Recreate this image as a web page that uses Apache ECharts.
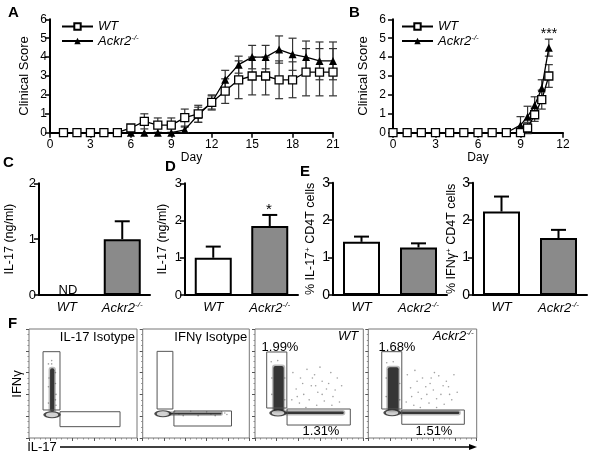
<!DOCTYPE html>
<html><head><meta charset="utf-8">
<script src="https://cdn.jsdelivr.net/npm/echarts@6/dist/echarts.min.js"></script>
<style>html,body{margin:0;padding:0;background:#fff}#c{width:600px;height:463px}</style>
</head><body><div id="c"></div>
<script>
// ---------- DATA ----------
// Panel A: clinical score over days
const daysA = [1,2,3,4,5,6,7,8,9,10,11,12,13,14,15,16,17,18,19,20,21];
const wtA    = [0,0,0,0,0,0.25,0.6,0.4,0.4,0.8,1.0,1.6,2.2,2.8,3.0,3.0,2.8,2.8,3.2,3.2,3.2];
const wtAErr = [0,0,0,0,0,0.15,0.4,0.38,0.38,0.45,0.45,0.4,0.65,1.0,1.0,1.0,1.0,0.95,1.25,1.25,1.25];
const koA    = [0,0,0,0,0,0,0,0,0,0.15,0.95,1.6,2.8,3.6,4.0,4.0,4.4,4.15,4.0,3.8,3.8];
const koAErr = [0,0,0,0,0,0,0,0,0,0.15,0.4,0.35,0.5,0.45,0.62,0.62,0.72,0.85,0.85,1.0,1.0];
// Panel B
const daysB  = [0,1,2,3,4,5,6,7,8,9,9.5,10,10.5,11];
const wtB    = [0,0,0,0,0,0,0,0,0,0,0.25,0.95,1.75,3.0];
const wtBErr = [0,0,0,0,0,0,0,0,0,0,0.3,0.35,0.5,0.6];
const koB    = [0,0,0,0,0,0,0,0,0,0.4,0.85,1.45,2.35,4.5];
const koBErr = [0,0,0,0,0,0,0,0,0,0.45,0.55,0.45,0.45,0.45];
// Bar panels
const groups = ['WT','Ackr2'];
const cVals = [null, 1.0];  const cErr = [null, 0.32];
const dVals = [1.0, 1.85];  const dErr = [0.3, 0.3];
const e1Vals = [1.42, 1.27]; const e1Err = [0.14, 0.11];
const e2Vals = [2.23, 1.52]; const e2Err = [0.4, 0.22];
// Panel F flow plots (coords 0-100 IL-17 x, IFNg y)
const flowTitles = ['IL-17 Isotype','IFNγ Isotype','WT','Ackr2'];
const flowGates = [
  [[13,25.7,28.7,79.2],[28.7,10.4,84.3,24.1]],
  [[13.5,26.6,28.3,79.5],[29.3,11,83.3,24.8]],
  [[10.8,27.5,29.4,78.9],[29.6,11.9,88,26.6]],
  [[12.4,26.6,30.9,79.2],[30.9,12.6,88.6,25.7]]
];
const flowPctUpper = [null, null, '1.99%', '1.68%'];
const flowPctLower = [null, null, '1.31%', '1.51%'];
const flowBlobs = [
  [[19.5,24,23.5,64]],
  [[24,21.6,74,23.2]],
  [[17,24,26.5,66],[28,22,82,24.2]],
  [[18,24,28,65],[29,22,84,24.2]]
];
const flowCenters = [[21.3,21.4],[19,22.3],[21.2,22.9],[21.9,23.2]];
const flowSparse = [
  [[18,68],[24.5,60],[18,47],[25,40],[18,32],[25,30],[21,68],[24.5,50],[18.5,55],[24.5,35],[21,71]],
  [[30,24.5],[38,20.5],[45,24.5],[52,20.5],[60,24],[68,20.5],[74,24],[79,21.5],[34,22],[64,22],[77,23]],
  [[35,60],[42,55],[48,63],[55,58],[62,52],[70,60],[76,55],[38,45],[45,40],[52,48],[58,42],[66,45],[72,38],[80,48],[34,35],[41,32],[50,35],[57,30],[64,34],[71,30],[78,33],[44,50],[60,65],[68,50],[53,55],[47,28],[74,44],[39,38],[62,40],[56,48],[15,70],[27.5,55],[15.5,40],[21,71],[27.5,35],[15.5,55]],
  [[36,58],[43,62],[50,55],[57,50],[65,57],[72,52],[79,58],[39,46],[46,42],[53,47],[60,44],[67,40],[74,47],[82,42],[35,33],[42,30],[49,36],[56,32],[63,36],[70,31],[77,35],[45,52],[61,60],[69,48],[54,40],[48,28],[75,40],[40,38],[63,28],[58,55],[17,69],[29,50],[16.5,38],[23,70],[29,35],[16.5,55]]
];

// ---------- LAYOUT ----------
const FONT = '"Liberation Sans", Arial, sans-serif';
const chart = echarts.init(document.getElementById('c'), null, {renderer:'canvas'});

const grids = [
  {left:50, top:19.3, width:283, height:113.4},   // A
  {left:393, top:19.3, width:170, height:113.4},  // B
  {left:39, top:183.3, width:111, height:111.7},  // C
  {left:185, top:183.3, width:113, height:111.7}, // D
  {left:333, top:182.7, width:114, height:112.3}, // E1
  {left:473, top:182.7, width:114, height:112.3}, // E2
  {left:29, top:329, width:108, height:109},
  {left:142.7, top:329, width:106.6, height:109},
  {left:255, top:329, width:108.3, height:109},
  {left:368.3, top:329, width:108.4, height:109}
];
grids.forEach((g,i)=>{ if(i>=6){ g.show=true; g.borderColor='#777'; g.borderWidth=1; } });

const axLine = {show:true, lineStyle:{color:'#000', width:2}};
const tick = {show:true, length:5, inside:false, lineStyle:{color:'#000', width:1.5}};
const lbl = (fs,m)=>({color:'#000', fontSize:fs, fontFamily:FONT, margin:m});

const italicRich = {
  i:{fontStyle:'italic', fontSize:13, fontFamily:FONT, color:'#000'},
  s:{fontStyle:'italic', fontSize:8, fontFamily:FONT, color:'#000', verticalAlign:'top', padding:[0,0,6,0]}
};
const grpFmt = v => v==='WT' ? '{i|WT}' : '{i|Ackr2}{s|-/-}';

const xAxes = [], yAxes = [];
// A
xAxes.push({gridIndex:0, type:'value', min:0, max:21, interval:3, axisLine:axLine, axisTick:tick, axisLabel:lbl(12,6), splitLine:{show:false},
  name:'Day', nameLocation:'middle', nameGap:14, nameTextStyle:{fontSize:12, fontFamily:FONT, color:'#000'}});
yAxes.push({gridIndex:0, type:'value', min:0, max:6, interval:1, axisLine:axLine, axisTick:tick, axisLabel:lbl(12,3), splitLine:{show:false},
  name:'Clinical Score', nameLocation:'middle', nameGap:19, nameTextStyle:{fontSize:13, fontFamily:FONT, color:'#000'}});
// B
xAxes.push({gridIndex:1, type:'value', min:0, max:12, interval:3, axisLine:axLine, axisTick:tick, axisLabel:lbl(12,6), splitLine:{show:false},
  name:'Day', nameLocation:'middle', nameGap:14, nameTextStyle:{fontSize:12, fontFamily:FONT, color:'#000'}});
yAxes.push({gridIndex:1, type:'value', min:0, max:6, interval:1, offset:4, axisLine:axLine, axisTick:tick, axisLabel:lbl(12,3), splitLine:{show:false},
  name:'Clinical Score', nameLocation:'middle', nameGap:19, nameTextStyle:{fontSize:13, fontFamily:FONT, color:'#000'}});
// bar panels
const barY = [
  {max:2, name:'IL-17 (ng/ml)', gap:23, fs:13},
  {max:3, name:'IL-17 (ng/ml)', gap:16, fs:13},
  {max:3, name:'% IL-17{s|+} CD4T cells', gap:16, fs:14},
  {max:3, name:'% IFNγ{s|+} CD4T cells', gap:15, fs:14}
];
barY.forEach((b,k)=>{
  const gi = 2+k;
  xAxes.push({gridIndex:gi, type:'category', data:groups, axisLine:axLine, axisTick:{show:false},
    axisLabel:{formatter:grpFmt, rich:italicRich, margin:6, interval:0, hideOverlap:false}});
  yAxes.push({gridIndex:gi, type:'value', min:0, max:b.max, interval:1, axisLine:axLine, axisTick:tick, axisLabel:lbl(b.fs,3), splitLine:{show:false},
    name:b.name, nameLocation:'middle', nameGap:b.gap,
    nameTextStyle:{fontSize:12.5, fontFamily:FONT, color:'#000', rich:{s:{fontSize:8, fontFamily:FONT, color:'#000', verticalAlign:'top'}}}});
});
// flow panels
for(let k=0;k<4;k++){
  const gi = 6+k;
  const ft = {show:true, length:3, inside:false, lineStyle:{color:'#555', width:1}};
  const mt = {show:true, splitNumber:4, length:1.5, lineStyle:{color:'#888', width:1}};
  xAxes.push({gridIndex:gi, type:'value', min:0, max:100, interval:20, axisLine:{show:false}, axisTick:ft, minorTick:mt, axisLabel:{show:false}, splitLine:{show:false}});
  yAxes.push({gridIndex:gi, type:'value', min:0, max:100, interval:20, axisLine:{show:false}, axisTick:ft, minorTick:mt, axisLabel:{show:false}, splitLine:{show:false}});
}

// ---------- RENDERERS ----------
function errRender(capW, upperOnly, color, lw){
  return function(params, api){
    const x = api.value(0), lo = api.value(1), hi = api.value(2);
    const pt = api.coord([x, hi]), pb = api.coord([x, lo]);
    const ch = [
      {type:'line', shape:{x1:pt[0], y1:pt[1], x2:pb[0], y2:pb[1]}, style:{stroke:color, lineWidth:lw}},
      {type:'line', shape:{x1:pt[0]-capW/2, y1:pt[1], x2:pt[0]+capW/2, y2:pt[1]}, style:{stroke:color, lineWidth:lw}}
    ];
    if(!upperOnly) ch.push({type:'line', shape:{x1:pb[0]-capW/2, y1:pb[1], x2:pb[0]+capW/2, y2:pb[1]}, style:{stroke:color, lineWidth:lw}});
    return {type:'group', children:ch};
  };
}
function blobRender(params, api){
  const a = api.coord([api.value(0), api.value(3)]);
  const b = api.coord([api.value(2), api.value(1)]);
  const w = b[0]-a[0], h = b[1]-a[1];
  return {type:'group', children:[
    {type:'rect', shape:{x:a[0]-1.5, y:a[1]-1.5, width:w+3, height:h+3, r:3}, style:{fill:'rgba(60,60,60,0.35)'}},
    {type:'rect', shape:{x:a[0], y:a[1], width:w, height:h, r:2}, style:{fill:'rgba(30,30,30,0.85)'}}
  ]};
}
function gateRender(params, api){
  const a = api.coord([api.value(0), api.value(3)]);
  const b = api.coord([api.value(2), api.value(1)]);
  return {type:'rect', shape:{x:a[0], y:a[1], width:b[0]-a[0], height:b[1]-a[1]}, style:{fill:'none', stroke:'#555', lineWidth:1}};
}

const series = [];
function clinical(idx, days, wt, wtE, ko, koE){
  series.push({type:'custom', xAxisIndex:idx, yAxisIndex:idx, z:1, silent:true,
    renderItem:errRender(8,false,'#333',1.2),
    data: days.map((d,i)=>[d, wt[i]-wtE[i], wt[i]+wtE[i], wtE[i]]).filter(r=>r[3]>0)});
  series.push({type:'custom', xAxisIndex:idx, yAxisIndex:idx, z:1, silent:true,
    renderItem:errRender(8,false,'#333',1.2),
    data: days.map((d,i)=>[d, ko[i]-koE[i], ko[i]+koE[i], koE[i]]).filter(r=>r[3]>0)});
  series.push({type:'line', name:'Ackr2', xAxisIndex:idx, yAxisIndex:idx, z:3,
    data: days.map((d,i)=>[d, ko[i]]), symbol:'triangle', symbolSize:8,
    itemStyle:{color:'#000'}, lineStyle:{color:'#000', width:1.3}});
  series.push({type:'line', name:'WT', xAxisIndex:idx, yAxisIndex:idx, z:4,
    data: days.map((d,i)=>[d, wt[i]]), symbol:'rect', symbolSize:8,
    itemStyle:{color:'#fff', borderColor:'#000', borderWidth:1.3}, lineStyle:{color:'#000', width:1.3}});
}
clinical(0, daysA, wtA, wtAErr, koA, koAErr);
clinical(1, daysB, wtB, wtBErr, koB, koBErr);

const barSets = [[cVals,cErr],[dVals,dErr],[e1Vals,e1Err],[e2Vals,e2Err]];
const barColors = ['#ffffff','#8a8a8a'];
barSets.forEach(([vals,errs],k)=>{
  const ai = 2+k;
  series.push({type:'custom', xAxisIndex:ai, yAxisIndex:ai, z:1, silent:true,
    renderItem:errRender(15,true,'#000',2),
    data: vals.map((v,i)=> v==null ? null : [i, v, v+errs[i]]).filter(r=>r)});
  series.push({type:'bar', xAxisIndex:ai, yAxisIndex:ai, z:2, barWidth:37,
    data: vals.map((v,i)=> v==null ? '-' : {value:v, itemStyle:{color:barColors[i]}}),
    itemStyle:{borderColor:'#000', borderWidth:2}});
});

for(let k=0;k<4;k++){
  const ai = 6+k;
  series.push({type:'scatter', xAxisIndex:ai, yAxisIndex:ai, z:1, silent:true,
    data: flowSparse[k], symbolSize:1.6, itemStyle:{color:'#888'}});
  series.push({type:'custom', xAxisIndex:ai, yAxisIndex:ai, z:2, silent:true,
    renderItem:blobRender, data: flowBlobs[k]});
  series.push({type:'custom', xAxisIndex:ai, yAxisIndex:ai, z:3, silent:true,
    renderItem:gateRender, data: flowGates[k]});
  series.push({type:'scatter', xAxisIndex:ai, yAxisIndex:ai, z:4, silent:true,
    data: [flowCenters[k]], symbol:'circle', symbolSize:[15,6],
    itemStyle:{color:'#c8c8c8', borderColor:'#222', borderWidth:1.6}});
}

// ---------- TEXT / DECORATION ----------
const letterStyle = (t,x,y)=>({type:'text', x:x, y:y, style:{text:t, fontSize:15, fontWeight:'bold', fontFamily:FONT, fill:'#000'}});
const txt = (t,x,y,o)=>({type:'text', x:x, y:y, style:Object.assign({text:t, fontSize:13, fontFamily:FONT, fill:'#000', align:'center', verticalAlign:'middle'}, o||{})});
const graphics = [
  letterStyle('A',8,5), letterStyle('B',349,5), letterStyle('C',3,155), letterStyle('D',165,159),
  letterStyle('E',300,164), letterStyle('F',8,316),
  txt('***',549,34,{fontSize:14}),
  txt('*',269,210,{fontSize:15}),
  txt('ND',68,290,{fontSize:13}),
  {type:'text', x:17, y:384, rotation:Math.PI/2, style:{text:'IFNγ', fontSize:13, fontFamily:FONT, fill:'#000', align:'center', verticalAlign:'middle'}},
  txt('IL-17',42,447,{fontSize:13}),
  {type:'line', shape:{x1:60, y1:447, x2:472, y2:447}, style:{stroke:'#000', lineWidth:1.5}},
  {type:'polygon', shape:{points:[[477,447],[469,444],[469,450]]}, style:{fill:'#000'}}
];
const boxR = [137,249.3,363.3,476.7];
flowTitles.forEach((t,k)=>{
  if(k<2) graphics.push(txt(t, boxR[k]-2, 337, {align:'right', fontSize:13}));
  else if(t==='WT') graphics.push(txt('WT', boxR[k]-5, 336, {align:'right', fontSize:13, fontStyle:'italic'}));
  else graphics.push({type:'text', x:boxR[k]-3, y:336, style:{text:'{i|Ackr2}{s|-/-}', align:'right', verticalAlign:'middle',
    rich:{i:{fontStyle:'italic', fontSize:13, fontFamily:FONT, fill:'#000'}, s:{fontStyle:'italic', fontSize:8, fontFamily:FONT, fill:'#000', verticalAlign:'top', padding:[0,0,6,0]}}}});
});
const upX = [null,null,280,397], loX=[null,null,321,434];
for(let k=2;k<4;k++){
  graphics.push(txt(flowPctUpper[k], upX[k], 347, {fontSize:13}));
  graphics.push(txt(flowPctLower[k], loX[k], 431, {fontSize:13}));
}

const legendRich = {
  i:{fontStyle:'italic', fontSize:13, fontFamily:FONT, color:'#000'},
  s:{fontStyle:'italic', fontSize:8, fontFamily:FONT, color:'#000', verticalAlign:'top', padding:[0,0,6,0]}
};
const legendBase = {orient:'vertical', itemWidth:31, itemHeight:8, itemGap:1, data:['WT','Ackr2'], selectedMode:false,
  formatter: n => n==='WT' ? '{i|WT}' : '{i|Ackr2}{s|-/-}', textStyle:{rich:legendRich, padding:[0,0,0,0]}};

chart.setOption({
  animation:false,
  backgroundColor:'#fff',
  textStyle:{fontFamily:FONT},
  grid:grids, xAxis:xAxes, yAxis:yAxes, series:series,
  legend:[Object.assign({left:56, top:15}, legendBase), Object.assign({left:396, top:15}, legendBase)],
  graphic:graphics
});
</script></body></html>
